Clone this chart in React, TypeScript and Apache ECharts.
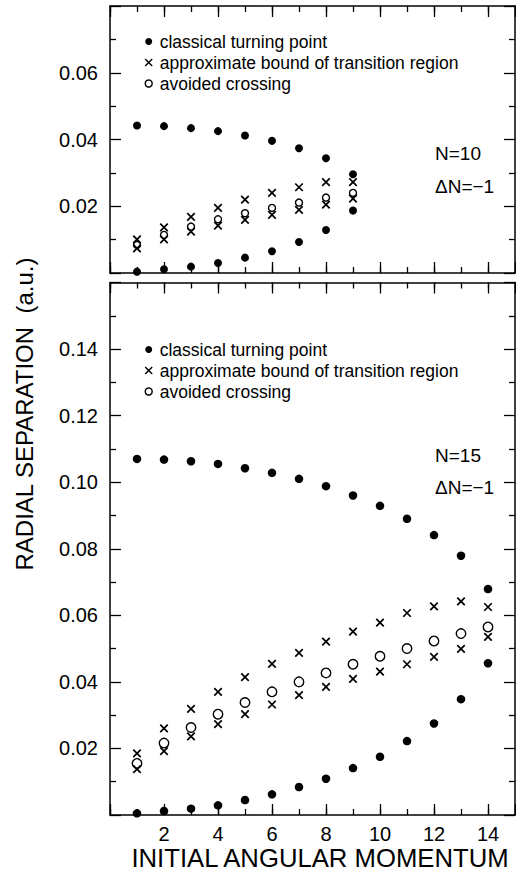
import { useEffect, useRef } from 'react';
import * as echarts from 'echarts';

// ---------- data ----------
const angularMomentumN10 = [1, 2, 3, 4, 5, 6, 7, 8, 9];
const turningOuterN10 = [0.0442, 0.044, 0.0434, 0.0425, 0.0412, 0.0396, 0.0374, 0.0344, 0.0296];
const turningInnerN10 = [0.0004, 0.0011, 0.0019, 0.003, 0.0046, 0.0065, 0.0093, 0.0129, 0.0187];
const boundUpperN10 = [0.0101, 0.0137, 0.0168, 0.0195, 0.022, 0.024, 0.0257, 0.0272, 0.0272];
const boundLowerN10 = [0.0074, 0.0101, 0.0124, 0.0142, 0.0159, 0.0174, 0.0189, 0.0205, 0.0223];
const crossingN10 = [0.0084, 0.0114, 0.0139, 0.0161, 0.0179, 0.0195, 0.0211, 0.0226, 0.024];

const angularMomentumN15 = [1, 2, 3, 4, 5, 6, 7, 8, 9, 10, 11, 12, 13, 14];
const turningOuterN15 = [0.107, 0.1068, 0.1063, 0.1055, 0.1042, 0.1028, 0.101, 0.0988, 0.096, 0.0929, 0.089, 0.0841, 0.0779, 0.0679];
const turningInnerN15 = [0.0005, 0.0012, 0.0019, 0.0029, 0.0045, 0.0062, 0.0084, 0.0109, 0.0141, 0.0175, 0.0222, 0.0275, 0.0348, 0.0456];
const boundUpperN15 = [0.0185, 0.026, 0.0319, 0.037, 0.0414, 0.0454, 0.0487, 0.0521, 0.0551, 0.0578, 0.0607, 0.0627, 0.0642, 0.0625];
const boundLowerN15 = [0.0138, 0.0192, 0.0236, 0.0273, 0.0303, 0.0332, 0.036, 0.0385, 0.0409, 0.0431, 0.0453, 0.0475, 0.0499, 0.0535];
const crossingN15 = [0.0155, 0.0216, 0.0263, 0.0303, 0.0338, 0.037, 0.04, 0.0427, 0.0453, 0.0477, 0.05, 0.0523, 0.0545, 0.0565];

const seriesNames = ['classical turning point', 'approximate bound of transition region', 'avoided crossing'];
const panelLabels = [['N=10', 'ΔN=−1'], ['N=15', 'ΔN=−1']];
const xMax = 15;
const yMaxN10 = 0.08;
const yMaxN15 = 0.16;
const xTitle = 'INITIAL ANGULAR MOMENTUM';
const yTitle = 'RADIAL SEPARATION  (a.u.)';

// ---------- styling ----------
const FONT = '"Liberation Sans", Arial, Helvetica, sans-serif';
const BLACK = '#000';
const CROSS = 'path://M0,0L10,10M10,0L0,10';

const pairs = (xs: number[], ys: number[]) => xs.map((x, i) => [x, ys[i]]);

function xAxesFor(gridIndex: number, labels: boolean) {
  const base = {
    type: 'value',
    gridIndex,
    min: 0,
    max: xMax,
    splitLine: { show: false },
    axisLine: { show: true, onZero: false, lineStyle: { color: BLACK, width: 1.5 } },
  };
  const label = labels
    ? {
        show: true,
        margin: 9,
        color: BLACK,
        fontFamily: FONT,
        fontSize: 20,
        formatter: (v: number) => (v > 0 && v < xMax ? String(v) : ''),
      }
    : { show: false };
  return [
    { ...base, position: 'bottom', interval: 2, axisTick: { inside: true, length: 11, lineStyle: { color: BLACK, width: 1.3 } }, axisLabel: label },
    { ...base, position: 'bottom', interval: 1, axisLine: { show: false, onZero: false }, axisTick: { inside: true, length: 6, lineStyle: { color: BLACK, width: 1.3 } }, axisLabel: { show: false } },
    { ...base, position: 'top', interval: 2, axisTick: { inside: true, length: 11, lineStyle: { color: BLACK, width: 1.3 } }, axisLabel: { show: false } },
    { ...base, position: 'top', interval: 1, axisLine: { show: false, onZero: false }, axisTick: { inside: true, length: 6, lineStyle: { color: BLACK, width: 1.3 } }, axisLabel: { show: false } },
  ];
}

function yAxesFor(gridIndex: number, yMax: number) {
  const maxK = Math.round(yMax * 100);
  const base = {
    type: 'value',
    gridIndex,
    min: 0,
    max: yMax,
    interval: 0.02,
    splitLine: { show: false },
    axisLine: { show: true, onZero: false, lineStyle: { color: BLACK, width: 1.5 } },
    axisTick: { inside: true, length: 11, lineStyle: { color: BLACK, width: 1.3 } },
    minorTick: { show: true, splitNumber: 2, length: 6, lineStyle: { color: BLACK, width: 1.3 } },
  };
  return [
    {
      ...base,
      position: 'left',
      axisLabel: {
        show: true,
        margin: 12,
        color: BLACK,
        fontFamily: FONT,
        fontSize: 20,
        formatter: (v: number) => {
          const k = Math.round(v * 100);
          return k > 0 && k < maxK ? (k / 100).toFixed(2) : '';
        },
      },
    },
    { ...base, position: 'right', axisLabel: { show: false } },
  ];
}

function panelSeries(
  xAxisIndex: number,
  yAxisIndex: number,
  xs: number[],
  outer: number[],
  inner: number[],
  upper: number[],
  lower: number[],
  crossing: number[],
  dotSize: number,
  circleSize: number,
) {
  return [
    {
      type: 'scatter',
      name: seriesNames[0],
      xAxisIndex,
      yAxisIndex,
      symbol: 'circle',
      symbolSize: dotSize,
      itemStyle: { color: BLACK, opacity: 1 },
      data: [...pairs(xs, outer), ...pairs(xs, inner)],
    },
    {
      type: 'scatter',
      name: seriesNames[1],
      xAxisIndex,
      yAxisIndex,
      symbol: CROSS,
      symbolSize: 7.5,
      itemStyle: { color: 'transparent', borderColor: BLACK, borderWidth: 1.7, opacity: 1 },
      data: [...pairs(xs, upper), ...pairs(xs, lower)],
    },
    {
      type: 'scatter',
      name: seriesNames[2],
      xAxisIndex,
      yAxisIndex,
      symbol: 'circle',
      symbolSize: circleSize,
      itemStyle: { color: 'transparent', borderColor: BLACK, borderWidth: 1.4, opacity: 1 },
      data: pairs(xs, crossing),
    },
  ];
}

function legendAt(top: number) {
  return {
    orient: 'vertical',
    left: 144.5,
    top,
    padding: 0,
    itemWidth: 12,
    itemHeight: 7,
    itemGap: 3,
    symbolKeepAspect: true,
    selectedMode: false,
    itemStyle: { borderWidth: 1.4, opacity: 1 },
    textStyle: { color: BLACK, fontFamily: FONT, fontSize: 17.5 },
    data: seriesNames,
  };
}

function panelText(x: number, y: number, text: string) {
  return {
    type: 'text',
    x,
    y,
    style: { text, fill: BLACK, font: `19px ${FONT}`, textAlign: 'left', textVerticalAlign: 'middle' },
  };
}

export default function App() {
  const ref = useRef<HTMLDivElement>(null);

  useEffect(() => {
    if (!ref.current) return;
    const chart = echarts.init(ref.current, null, { renderer: 'svg' });
    const option: any = {
      animation: false,
      backgroundColor: '#fff',
      grid: [
        { left: 110, top: 6, width: 405, height: 267, outerBoundsMode: 'none' },
        { left: 110, top: 282.5, width: 405, height: 532.5, outerBoundsMode: 'none' },
      ],
      xAxis: [...xAxesFor(0, false), ...xAxesFor(1, true)],
      yAxis: [...yAxesFor(0, yMaxN10), ...yAxesFor(1, yMaxN15)],
      legend: [legendAt(32.5), legendAt(340.5)],
      series: [
        ...panelSeries(0, 0, angularMomentumN10, turningOuterN10, turningInnerN10, boundUpperN10, boundLowerN10, crossingN10, 8, 7),
        ...panelSeries(4, 2, angularMomentumN15, turningOuterN15, turningInnerN15, boundUpperN15, boundLowerN15, crossingN15, 8.5, 9.5),
      ],
      graphic: [
        panelText(435, 153.5, panelLabels[0][0]),
        panelText(435, 186.5, panelLabels[0][1]),
        panelText(435, 455, panelLabels[1][0]),
        panelText(435, 487, panelLabels[1][1]),
        {
          type: 'text',
          x: 320,
          y: 858,
          style: { text: xTitle, fill: BLACK, font: `25.7px ${FONT}`, textAlign: 'center', textVerticalAlign: 'middle' },
        },
        {
          type: 'text',
          x: 24,
          y: 414,
          rotation: Math.PI / 2,
          style: { text: yTitle, fill: BLACK, font: `24px ${FONT}`, textAlign: 'center', textVerticalAlign: 'middle' },
        },
      ],
    };
    chart.setOption(option);
    return () => chart.dispose();
  }, []);

  return (
    <div
      ref={ref}
      style={{ position: 'absolute', left: 0, top: 0, width: 516, height: 875, background: '#fff' }}
    />
  );
}
